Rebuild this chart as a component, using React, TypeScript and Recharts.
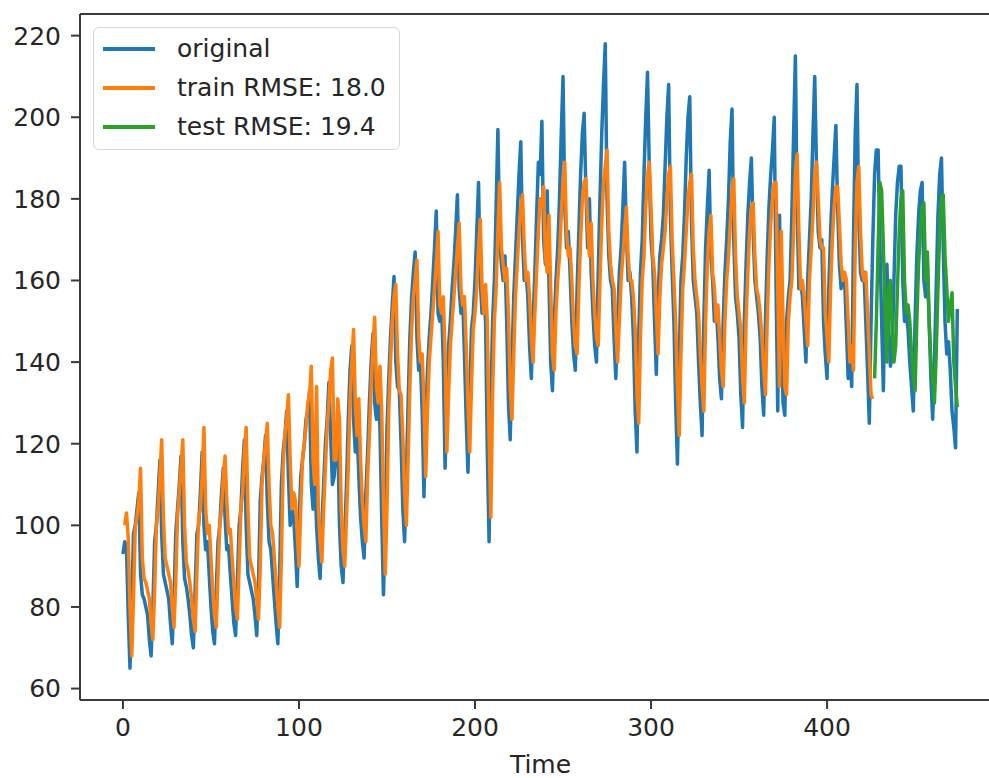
import { LineChart, Line, XAxis, YAxis, ReferenceLine } from 'recharts'

// values, one per time step (t = 0 .. 474)
const ORIGINAL = [
  93, 96, 95, 78, 65, 80, 98, 100, 104, 108,
  88, 83, 82, 80, 78, 72, 68, 80, 96, 100,
  108, 116, 98, 88, 86, 84, 82, 76, 71, 82,
  98, 104, 110, 117, 96, 87, 85, 82, 78, 73,
  70, 84, 98, 100, 108, 118, 100, 94, 96, 88,
  80, 74, 71, 84, 96, 100, 108, 114, 102, 94,
  95, 88, 82, 76, 73, 86, 100, 104, 114, 121,
  100, 88, 86, 84, 82, 78, 73, 86, 106, 112,
  116, 122, 106, 96, 94, 88, 82, 76, 71, 88,
  110, 118, 122, 128, 112, 100, 104, 102, 94, 85,
  100, 112, 116, 120, 126, 128, 133, 110, 104, 112,
  100, 92, 87, 100, 110, 120, 126, 135, 122, 110,
  112, 118, 124, 100, 90, 86, 98, 110, 126, 138,
  144, 126, 118, 124, 112, 102, 96, 92, 108, 118,
  130, 140, 147, 130, 126, 132, 124, 102, 83, 100,
  124, 136, 146, 154, 161, 140, 134, 133, 120, 104,
  96, 112, 130, 146, 156, 162, 167, 146, 138, 140,
  128, 107, 126, 138, 146, 152, 160, 168, 177, 152,
  150, 154, 140, 114, 130, 144, 150, 158, 164, 172,
  181, 158, 152, 156, 142, 126, 113, 132, 148, 152,
  160, 172, 184, 160, 152, 158, 150, 118, 96, 130,
  150, 160, 178, 197, 170, 164, 160, 166, 150, 130,
  121, 140, 156, 166, 176, 186, 194, 170, 160, 162,
  156, 144, 136, 150, 162, 176, 189, 186, 199, 170,
  164, 182, 160, 140, 133, 150, 160, 168, 180, 196,
  210, 178, 168, 172, 162, 150, 142, 138, 158, 172,
  186, 196, 201, 182, 168, 180, 162, 152, 144, 140,
  162, 180, 196, 208, 218, 180, 166, 160, 158, 146,
  136, 150, 162, 168, 178, 189, 172, 160, 162, 156,
  146, 128, 118, 146, 162, 170, 186, 200, 211, 188,
  170, 164, 150, 137, 156, 166, 170, 176, 188, 200,
  208, 176, 162, 150, 130, 115, 140, 160, 166, 176,
  190, 200, 205, 174, 160, 156, 152, 140, 130, 122,
  150, 168, 178, 187, 166, 160, 150, 154, 146, 136,
  131, 150, 162, 170, 180, 194, 202, 170, 156, 152,
  146, 132, 124, 150, 164, 176, 184, 190, 172, 160,
  156, 152, 146, 134, 127, 150, 166, 178, 186, 192,
  200, 160, 128, 176, 150, 130, 127, 150, 156, 160,
  176, 196, 215, 178, 158, 160, 156, 148, 140, 160,
  170, 180, 196, 210, 188, 172, 168, 170, 150, 142,
  136, 158, 172, 182, 190, 198, 178, 164, 158, 162,
  160, 148, 136, 142, 134, 170, 196, 208, 176, 162,
  160, 162, 150, 138, 125, 150, 170, 186, 192, 192,
  170, 150, 133, 160, 164, 148, 139, 142, 160, 176,
  184, 188, 188, 160, 150, 152, 148, 140, 134, 128,
  150, 166, 176, 182, 184, 160, 156, 164, 150, 136,
  126, 140, 158, 176, 186, 190, 168, 150, 142, 145,
  138, 128, 124, 119, 153,
]

// train prediction, t = 1 .. 426
const TRAIN_START = 1
const TRAIN_PRED = [
  100, 103, 97, 80, 68, 82, 100, 102, 106,
  114, 92, 87, 86, 84, 82, 76, 72, 84, 100,
  104, 112, 121, 102, 92, 90, 88, 86, 80, 75,
  86, 102, 108, 114, 121, 100, 91, 89, 86, 82,
  77, 74, 88, 102, 104, 112, 124, 104, 98, 100,
  92, 84, 78, 75, 88, 100, 104, 112, 117, 106,
  98, 99, 92, 86, 80, 77, 90, 104, 108, 118,
  124, 104, 92, 90, 88, 86, 82, 77, 90, 110,
  116, 120, 125, 110, 100, 98, 92, 86, 80, 75,
  92, 114, 122, 126, 132, 116, 104, 108, 106, 98,
  90, 104, 116, 120, 124, 130, 132, 139, 116, 110,
  134, 104, 96, 91, 104, 114, 124, 130, 138, 141,
  116, 116, 131, 126, 104, 94, 90, 102, 114, 130,
  140, 148, 130, 122, 131, 116, 106, 100, 96, 112,
  122, 134, 144, 151, 134, 130, 139, 128, 106, 88,
  104, 128, 140, 150, 156, 159, 142, 133, 132, 122,
  108, 100, 116, 134, 148, 156, 160, 165, 146, 140,
  142, 130, 112, 128, 140, 146, 152, 158, 164, 172,
  154, 152, 156, 142, 118, 132, 144, 150, 156, 162,
  168, 174, 158, 154, 156, 144, 130, 118, 134, 148,
  152, 158, 168, 175, 158, 152, 159, 150, 122, 102,
  132, 150, 158, 172, 184, 168, 164, 160, 163, 152,
  134, 126, 142, 156, 164, 172, 178, 181, 168, 160,
  162, 156, 146, 140, 152, 162, 172, 180, 178, 183,
  166, 162, 176, 158, 142, 138, 152, 160, 166, 176,
  184, 189, 172, 166, 168, 160, 150, 144, 142, 158,
  170, 180, 184, 185, 174, 166, 174, 160, 152, 146,
  144, 160, 174, 184, 188, 192, 172, 164, 160, 158,
  148, 140, 150, 160, 166, 172, 178, 166, 160, 160,
  156, 148, 132, 125, 146, 160, 166, 178, 186, 189,
  178, 166, 162, 152, 142, 156, 164, 168, 172, 180,
  186, 188, 170, 160, 150, 134, 122, 142, 158, 164,
  172, 180, 184, 186, 168, 160, 156, 152, 142, 134,
  128, 150, 164, 172, 176, 162, 158, 150, 154, 146,
  138, 134, 150, 160, 166, 174, 182, 185, 166, 156,
  152, 148, 136, 130, 150, 162, 172, 178, 179, 166,
  158, 156, 152, 146, 138, 132, 150, 164, 174, 180,
  184, 184, 158, 134, 172, 150, 134, 132, 150, 156,
  160, 172, 186, 191, 172, 158, 160, 156, 150, 144,
  160, 168, 176, 186, 189, 180, 170, 168, 168, 152,
  146, 140, 158, 170, 178, 183, 183, 174, 164, 160,
  162, 160, 150, 140, 144, 138, 168, 184, 188, 172,
  162, 160, 162, 152, 142, 132, 131,
]

// test prediction, t = 427 .. 474
const TEST_START = 427
const TEST_PRED = [
  136, 150, 168,
  184, 182, 168, 152, 140, 158, 160, 148, 140, 144,
  158, 172, 180, 182, 160, 152, 154, 150, 142, 137,
  133, 150, 164, 172, 178, 179, 160, 167, 150, 140,
  136, 130, 142, 158, 172, 180, 181, 166, 158, 150,
  154, 157, 140, 134, 129,
]

const X_TICKS = [0, 100, 200, 300, 400]
const Y_TICKS = [60, 80, 100, 120, 140, 160, 180, 200, 220]

const SERIES = [
  { name: 'original', color: '#1f77b4' },
  { name: 'train RMSE: 18.0', color: '#ff7f0e' },
  { name: 'test RMSE: 19.4', color: '#2ca02c' },
]

const toPoints = (vals: number[], start: number) => vals.map((v, i) => ({ t: start + i, v }))

const FONT = '"DejaVu Sans", "Liberation Sans", sans-serif'
const SPINE = '#3a3a3a'
const TEXT = '#262626'
const X_DOMAIN = [-24.4, 492]
const Y_DOMAIN = [57.2, 225.3]

export default function App() {
  const original = toPoints(ORIGINAL, 0)
  const train = toPoints(TRAIN_PRED, TRAIN_START)
  const test = toPoints(TEST_PRED, TEST_START)

  return (
    <div style={{ position: 'absolute', left: 0, top: 0, width: 989, height: 778, background: '#fff', fontFamily: FONT, overflow: 'hidden' }}>
      <LineChart width={989} height={778} margin={{ top: 14, right: 0, bottom: 0, left: 0 }}>
        <XAxis
          type="number"
          dataKey="t"
          domain={X_DOMAIN}
          ticks={X_TICKS}
          allowDataOverflow
          height={78}
          tickSize={9}
          tickMargin={9}
          stroke={SPINE}
          strokeWidth={2}
          tick={{ fill: TEXT, fontSize: 25, fontFamily: FONT }}
          label={{ value: 'Time', position: 'insideBottom', offset: 5, dx: 6, fill: TEXT, fontSize: 25, fontFamily: FONT }}
        />
        <YAxis
          type="number"
          domain={Y_DOMAIN}
          ticks={Y_TICKS}
          allowDataOverflow
          width={80}
          tickSize={9}
          tickMargin={10}
          stroke={SPINE}
          strokeWidth={2}
          tick={{ fill: TEXT, fontSize: 25, fontFamily: FONT }}
        />
        {/* top spine */}
        <ReferenceLine y={Y_DOMAIN[1]} stroke={SPINE} strokeWidth={2} />
        <Line data={original} dataKey="v" name={SERIES[0].name} stroke={SERIES[0].color} strokeWidth={3.5} strokeLinejoin="round" dot={false} activeDot={false} isAnimationActive={false} />
        <Line data={train} dataKey="v" name={SERIES[1].name} stroke={SERIES[1].color} strokeWidth={3.5} strokeLinejoin="round" dot={false} activeDot={false} isAnimationActive={false} />
        <Line data={test} dataKey="v" name={SERIES[2].name} stroke={SERIES[2].color} strokeWidth={3.5} strokeLinejoin="round" dot={false} activeDot={false} isAnimationActive={false} />
      </LineChart>

      {/* legend box, upper left like matplotlib */}
      <div
        style={{
          position: 'absolute', left: 93, top: 27, width: 307, height: 123, boxSizing: 'border-box',
          border: '1.5px solid #d6d6d6', borderRadius: 6, background: 'rgba(255,255,255,0.8)',
        }}
      >
        {SERIES.map((s, i) => (
          <div key={s.name} style={{ position: 'absolute', left: 0, top: 6 + i * 39, height: 30, display: 'flex', alignItems: 'center' }}>
            <div style={{ marginLeft: 9, width: 52, height: 3.5, background: s.color }} />
            <span style={{ marginLeft: 22, fontSize: 25, color: TEXT, whiteSpace: 'nowrap', lineHeight: '30px' }}>{s.name}</span>
          </div>
        ))}
      </div>
    </div>
  )
}
